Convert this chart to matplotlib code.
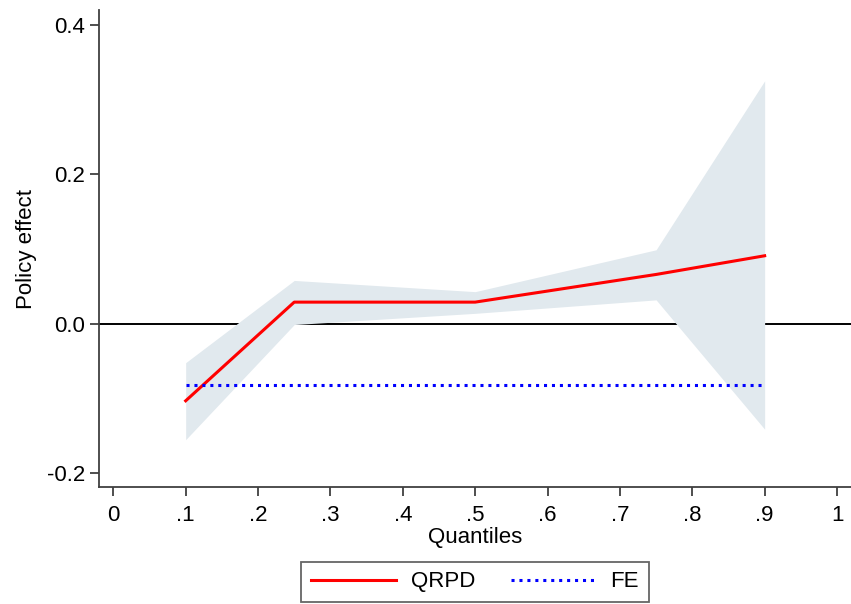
import matplotlib
matplotlib.use("Agg")
import matplotlib.pyplot as plt

plt.rcParams['font.family'] = ['Liberation Sans', 'DejaVu Sans']

# values
quantiles = [0.10, 0.25, 0.50, 0.75, 0.90]
qrpd = [-0.103, 0.029, 0.029, 0.066, 0.091]
ci_low = [-0.155, -0.001, 0.014, 0.032, -0.141]
ci_high = [-0.052, 0.058, 0.043, 0.099, 0.325]
fe_effect = -0.082

xticks = [0, 0.1, 0.2, 0.3, 0.4, 0.5, 0.6, 0.7, 0.8, 0.9, 1.0]
xticklabels = ["0", ".1", ".2", ".3", ".4", ".5", ".6", ".7", ".8", ".9", "1"]
yticks = [-0.2, 0.0, 0.2, 0.4]
yticklabels = ["-0.2", "0.0", "0.2", "0.4"]

fig = plt.figure(figsize=(8.51, 6.04), dpi=100)
ax = fig.add_axes([0.1163, 0.1937, 0.8837, 0.7897])

spine_col = "#404040"
fs = 16
ax.axhline(0, color="black", lw=1.4, zorder=1)
ax.fill_between(quantiles, ci_low, ci_high, color="#e1e9ee", lw=0, zorder=2)
ax.plot(quantiles, qrpd, color="red", lw=2.2, label="QRPD", zorder=3)
ax.plot([quantiles[0], quantiles[-1]], [fe_effect, fe_effect], color="blue",
        lw=2.2, ls=(0, (1, 1.6)), label="FE", zorder=3)

ax.set_xlim(-0.0198, 1.0193)
ax.set_ylim(-0.2183, 0.4197)
ax.set_xticks(xticks)
ax.set_xticklabels(xticklabels)
ax.set_yticks(yticks)
ax.set_yticklabels(yticklabels)

for s in ["top", "right"]:
    ax.spines[s].set_visible(False)
for s in ["left", "bottom"]:
    ax.spines[s].set_color(spine_col)
    ax.spines[s].set_linewidth(1.3)
ax.tick_params(axis="both", direction="out", length=6.5, width=1.3,
               color=spine_col, labelsize=fs)
ax.tick_params(axis="x", pad=6.5)
ax.tick_params(axis="y", pad=3.5)

ax.set_xlabel("Quantiles", fontsize=fs, labelpad=0.5)
ax.set_ylabel("Policy effect", fontsize=fs, labelpad=7)

leg = ax.legend(loc="upper center", bbox_to_anchor=(0.5, -0.133), ncol=2,
                frameon=True, fancybox=False, fontsize=fs, handlelength=3.8,
                columnspacing=1.6, handletextpad=0.68, borderpad=0.44)
leg.get_frame().set_edgecolor(spine_col)
leg.get_frame().set_linewidth(1.3)

fig.savefig("out.png", dpi=100)
